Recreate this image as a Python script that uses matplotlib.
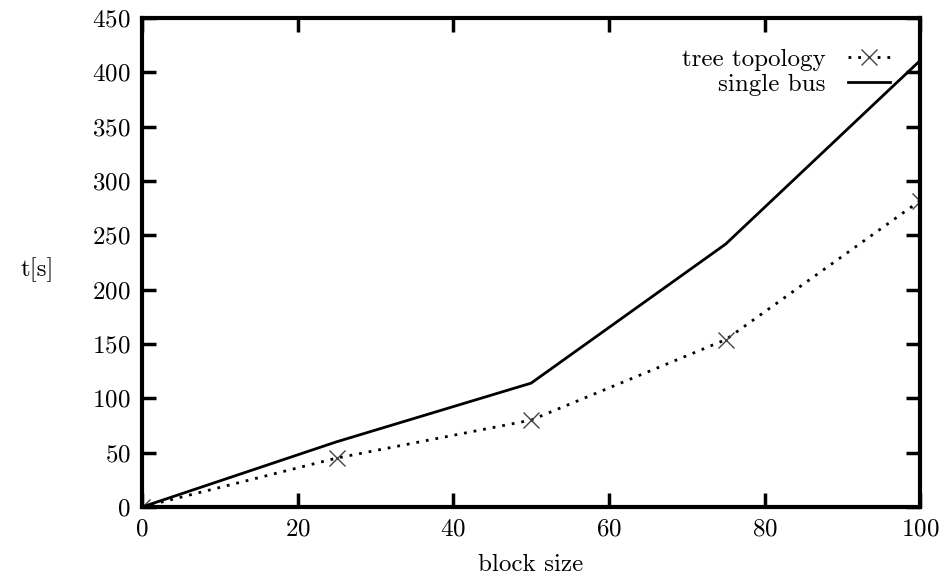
import matplotlib
matplotlib.use('Agg')
import matplotlib.pyplot as plt

block_size = [0, 25, 50, 75, 100]
tree_topology = [0, 45, 80, 154, 282]
single_bus = [0, 60, 114, 242, 411]

plt.rcParams['font.family'] = 'cmr10'
plt.rcParams['axes.formatter.use_mathtext'] = True

fig = plt.figure(figsize=(9.4, 5.78), dpi=100)
ax = fig.add_axes([0.151, 0.1228, 0.828, 0.846])

ax.plot(block_size, tree_topology, color='k', lw=2, linestyle=(0, (1, 2.5)),
        marker='x', markersize=11, markeredgecolor='#444444', markeredgewidth=1,
        label='tree topology')
ax.plot(block_size, single_bus, color='k', lw=2, label='single bus')

ax.set_xlim(0, 100)
ax.set_ylim(0, 450)
ax.set_xticks(range(0, 101, 20))
ax.set_yticks(range(0, 451, 50))
ax.tick_params(direction='in', length=10, width=2.5, top=True, right=True,
               labelsize=18, pad=8)
for s in ax.spines.values():
    s.set_linewidth(3)

ax.set_xlabel('block size', fontsize=18, labelpad=10)
ax.set_ylabel('t[s]', fontsize=18, rotation=0, va='center', ha='center')
ax.yaxis.set_label_coords(-0.135, 0.485)

ax.legend(loc='upper right', frameon=False, markerfirst=False, fontsize=18,
          handlelength=1.7, handletextpad=0.9, borderaxespad=0.8,
          labelspacing=0.1)

fig.savefig('out.png', dpi=100)
